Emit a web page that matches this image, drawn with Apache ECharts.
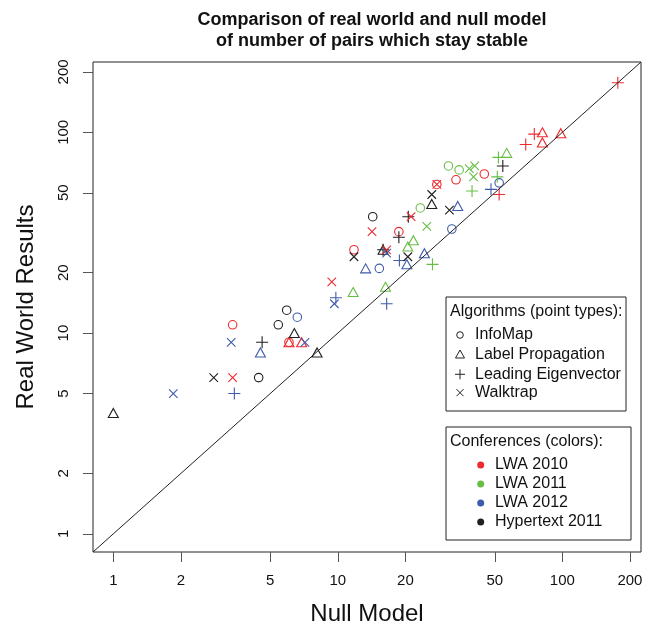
<!DOCTYPE html>
<html><head><meta charset="utf-8">
<script src="https://cdn.jsdelivr.net/npm/echarts@6/dist/echarts.min.js"></script>
<style>html,body{margin:0;padding:0;background:#fff}#c{width:668px;height:633px}</style>
</head><body><div id="c"></div>
<script>
// ---- axis settings (same limits on both log axes) ----
const axisMin = 0.812, axisMax = 224;
const tickValues = [1, 2, 5, 10, 20, 50, 100, 200];

// ---- categories ----
const algorithms = ['InfoMap', 'Label Propagation', 'Leading Eigenvector', 'Walktrap'];
const conferences = ['LWA 2010', 'LWA 2011', 'LWA 2012', 'Hypertext 2011'];
const confColors = ['#ee2a2e', '#68bd45', '#3d5cab', '#231f20'];

// ---- data: [null model, real world] ----
// InfoMap (circles)
const infoMap2010 = [[3.4, 11], [6.06, 9], [11.8, 26], [18.7, 32], [27.6, 55], [33.6, 58], [44.9, 62]];
const infoMap2011 = [[23.3, 42], [31.1, 68], [34.7, 65]];
const infoMap2012 = [[6.6, 12], [15.3, 21], [32.2, 33], [52.3, 56]];
const infoMapHT = [[4.44, 6], [5.43, 11], [5.92, 13], [14.3, 38]];
// Label Propagation (triangles)
const labelProp2010 = [[6.06, 9], [6.9, 9], [81.5, 100], [81.5, 89], [98.4, 99]];
const labelProp2011 = [[11.7, 16], [16.3, 17], [20.5, 27], [21.7, 29], [56.5, 79]];
const labelProp2012 = [[4.52, 8], [13.3, 21], [20.3, 22], [24.3, 25], [34.2, 43]];
const labelPropHT = [[1, 4], [6.4, 10], [8.08, 8], [15.9, 26], [26.2, 44]];
// Leading Eigenvector (plus)
const leadEig2010 = [[52.3, 49], [68.7, 87], [75, 98], [176.6, 176.6]];
const leadEig2011 = [[26.4, 22], [39.6, 51], [51.3, 60], [51.9, 75]];
const leadEig2012 = [[3.46, 5], [9.8, 15], [16.5, 14], [18.8, 23], [48.1, 52]];
const leadEigHT = [[4.6, 9], [15.9, 26], [18.7, 30], [20.6, 38], [54.3, 68]];
// Walktrap (cross)
const walktrap2010 = [[3.4, 6], [9.4, 18], [14.2, 32], [16.5, 26], [21.2, 38], [27.6, 55]];
const walktrap2011 = [[24.9, 34], [38.5, 66], [40.7, 68], [40.2, 60]];
const walktrap2012 = [[1.85, 5], [3.35, 9], [7.14, 9], [9.65, 14], [16.5, 25]];
const walktrapHT = [[2.8, 6], [11.8, 24], [20.5, 24], [26.2, 49], [31.4, 41]];

const dataByAlgo = [
  [infoMap2010, infoMap2011, infoMap2012, infoMapHT],
  [labelProp2010, labelProp2011, labelProp2012, labelPropHT],
  [leadEig2010, leadEig2011, leadEig2012, leadEigHT],
  [walktrap2010, walktrap2011, walktrap2012, walktrapHT]
];

const FONT = '"Liberation Sans", Arial, Helvetica, sans-serif';
const symbols = ['circle', 'triangle', 'path://M5,0L5,10M0,5L10,5', 'path://M0,0L10,10M10,0L0,10'];
const symSizes = [8.5, [10, 9], 12, 8.5];

const series = [];
dataByAlgo.forEach((arrs, ai) => {
  arrs.forEach((pts, ci) => {
    series.push({
      type: 'scatter',
      name: algorithms[ai] + ' / ' + conferences[ci],
      data: pts,
      symbol: symbols[ai],
      symbolSize: symSizes[ai],
      itemStyle: { color: 'rgba(0,0,0,0)', borderColor: confColors[ci], borderWidth: 1.1, opacity: 1 },
      emphasis: { disabled: true },
      z: 3
    });
  });
});
series.push({
  type: 'line',
  name: 'y = x',
  data: [[axisMin, axisMin], [axisMax, axisMax]],
  symbol: 'none',
  lineStyle: { color: '#222', width: 1 },
  silent: true,
  z: 4
});

function fmt(v) { return String(Math.round(v * 1000) / 1000); }

const legendText = (x, y, t) => ({ type: 'text', x: x, y: y, style: { text: t, font: '16px ' + FONT, fill: '#111', verticalAlign: 'middle', align: 'left' } });
const sym = { stroke: '#222', lineWidth: 1, fill: 'none' };

const graphic = [
  { type: 'rect', shape: { x: 446, y: 297, width: 180, height: 114 }, style: { fill: '#fff', stroke: '#222', lineWidth: 1 }, z: 10 },
  Object.assign(legendText(450, 312, 'Algorithms (point types):'), { z: 11 }),
  { type: 'circle', shape: { cx: 460, cy: 335, r: 3.3 }, style: sym, z: 11 },
  { type: 'polygon', shape: { points: [[455.5, 358], [464.5, 358], [460, 350]] }, style: sym, z: 11 },
  { type: 'polyline', shape: { points: [[455, 374.3], [465, 374.3]] }, style: sym, z: 11 },
  { type: 'polyline', shape: { points: [[460, 369.3], [460, 379.3]] }, style: sym, z: 11 },
  { type: 'polyline', shape: { points: [[456.5, 389.2], [463.5, 396.2]] }, style: sym, z: 11 },
  { type: 'polyline', shape: { points: [[463.5, 389.2], [456.5, 396.2]] }, style: sym, z: 11 },
  Object.assign(legendText(475, 335, algorithms[0]), { z: 11 }),
  Object.assign(legendText(475, 354.3, algorithms[1]), { z: 11 }),
  Object.assign(legendText(475, 374.3, algorithms[2]), { z: 11 }),
  Object.assign(legendText(475, 392.7, algorithms[3]), { z: 11 }),

  { type: 'rect', shape: { x: 446, y: 427, width: 185, height: 113 }, style: { fill: '#fff', stroke: '#222', lineWidth: 1 }, z: 10 },
  Object.assign(legendText(450, 442, 'Conferences (colors):'), { z: 11 })
];
const confRows = [465, 484, 503, 522];
conferences.forEach((c, i) => {
  graphic.push({ type: 'circle', shape: { cx: 480.7, cy: confRows[i], r: 3.5 }, style: { fill: confColors[i] }, z: 11 });
  graphic.push(Object.assign(legendText(495, confRows[i], c), { z: 11 }));
});

const chart = echarts.init(document.getElementById('c'), null, { renderer: 'canvas' });
chart.setOption({
  animation: false,
  backgroundColor: '#fff',
  title: {
    text: 'Comparison of real world and null model\nof number of pairs which stay stable',
    left: 367, top: 5, textAlign: 'center',
    textStyle: { fontFamily: FONT, fontWeight: 'bold', fontSize: 18, lineHeight: 21, color: '#111' }
  },
  grid: { left: 93, top: 62, width: 548, height: 490, show: true, borderColor: '#222', borderWidth: 1, backgroundColor: 'transparent', containLabel: false, outerBoundsMode: 'none' },
  xAxis: {
    type: 'log', logBase: 10, min: axisMin, max: axisMax,
    name: 'Null Model', nameLocation: 'middle', nameGap: 50,
    nameTextStyle: { fontFamily: FONT, fontSize: 24, color: '#111' },
    axisLine: { show: false },
    axisTick: { show: true, inside: false, length: 10, lineStyle: { color: '#555' }, customValues: tickValues },
    axisLabel: { customValues: tickValues, formatter: fmt, margin: 21, fontFamily: FONT, fontSize: 15, color: '#111' },
    splitLine: { show: false }, minorTick: { show: false }
  },
  yAxis: {
    type: 'log', logBase: 10, min: axisMin, max: axisMax,
    name: 'Real World Results', nameLocation: 'middle', nameGap: 55,
    nameTextStyle: { fontFamily: FONT, fontSize: 24, color: '#111' },
    axisLine: { show: false },
    axisTick: { show: true, inside: false, length: 10, lineStyle: { color: '#555' }, customValues: tickValues },
    axisLabel: { customValues: tickValues, formatter: fmt, rotate: 90, margin: 22, fontFamily: FONT, fontSize: 15, color: '#111' },
    splitLine: { show: false }, minorTick: { show: false }
  },
  series: series,
  graphic: graphic
});
</script>
</body></html>
